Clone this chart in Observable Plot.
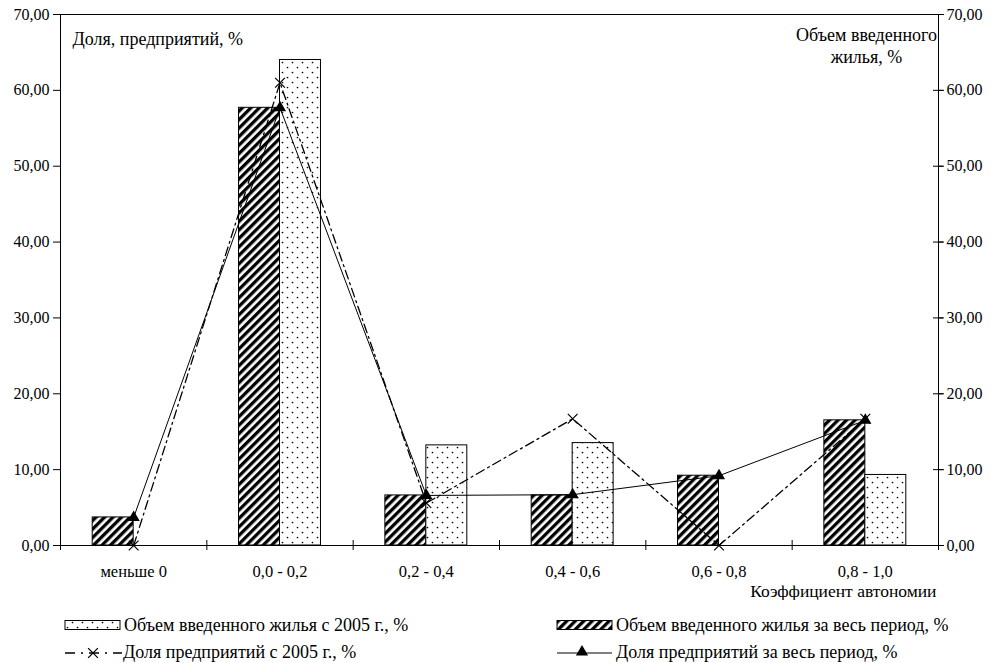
<!DOCTYPE html>
<html><head><meta charset="utf-8">
<script src="https://cdn.jsdelivr.net/npm/d3@7"></script>
<script src="https://cdn.jsdelivr.net/npm/@observablehq/plot@0.6"></script>
<style>
body{margin:0;background:#fff;font-family:"Liberation Serif",serif;}
#chart{width:991px;}
#legend{width:991px;height:63px;}
#legend svg, #chart svg{display:block;}
#chart svg text, #legend svg text{font-family:"Liberation Serif",serif !important;}
</style></head><body>
<svg width="0" height="0" style="position:absolute">
<defs>
<pattern id="hatch" patternUnits="userSpaceOnUse" width="6" height="6" patternTransform="rotate(45)">
<rect width="6" height="6" fill="white"/><rect width="3.3" height="6" fill="black"/>
</pattern>
<pattern id="dots" patternUnits="userSpaceOnUse" width="10" height="10">
<rect width="10" height="10" fill="white"/><circle cx="2.5" cy="2.5" r="0.85" fill="black"/><circle cx="7.5" cy="7.5" r="0.85" fill="black"/>
</pattern>
</defs></svg>
<div id="chart"></div>
<div id="legend"></div>
<script>
const categories = ["меньше 0", "0,0 - 0,2", "0,2 - 0,4", "0,4 - 0,6", "0,6 - 0,8", "0,8 - 1,0"];
const volumeAll = [3.7, 57.7, 6.6, 6.6, 9.2, 16.5];   // Объем введенного жилья за весь период, %
const volume2005 = [0, 64.0, 13.2, 13.5, 0, 9.3];     // Объем введенного жилья с 2005 г., %
const shareAll = [3.7, 57.7, 6.6, 6.7, 9.2, 16.5];    // Доля предприятий за весь период, %
const share2005 = [0, 61.0, 5.6, 16.7, 0, 16.7];      // Доля предприятий с 2005 г., %
const yTicks = [0, 10, 20, 30, 40, 50, 60, 70];
const yLabelLeft = "Доля, предприятий, %";
const yLabelRight = "Объем введенного\nжилья, %";
const xLabel = "Коэффициент автономии";
const legendLabels = [
  "Объем введенного жилья с 2005 г., %",
  "Объем введенного жилья за весь период, %",
  "Доля предприятий с 2005 г., %",
  "Доля предприятий за весь период, %"
];

const FF = '"Liberation Serif", serif';
const fmt = d => d.toFixed(2).replace(".", ",");
const idx = categories.map((_, i) => i);
const boundaries = d3.range(categories.length + 1).map(i => i - 0.5);
const BW = 0.28; // bar width as fraction of category step
const FS = 16;

const barsAll = idx.filter(i => volumeAll[i] > 0).map(i => ({i, v: volumeAll[i]}));
const bars2005 = idx.filter(i => volume2005[i] > 0).map(i => ({i, v: volume2005[i]}));
const lineAll = idx.map(i => ({i, v: shareAll[i]}));
const line2005 = idx.map(i => ({i, v: share2005[i]}));

const chart = Plot.plot({
  width: 991,
  height: 600,
  marginLeft: 60,
  marginRight: 53,
  marginTop: 14,
  marginBottom: 55,
  style: {fontFamily: FF, fontSize: FS + "px", color: "black", background: "white"},
  x: {domain: [-0.5, categories.length - 0.5], axis: null, label: null},
  y: {domain: [0, 70], axis: null, label: null},
  marks: [
    Plot.rect(barsAll, {x1: d => d.i - BW, x2: d => d.i, y1: 0, y2: "v", fill: "url(#hatch)", stroke: "black", strokeWidth: 1}),
    Plot.rect(bars2005, {x1: d => d.i, x2: d => d.i + BW, y1: 0, y2: "v", fill: "url(#dots)", stroke: "black", strokeWidth: 1}),
    Plot.line(line2005, {x: "i", y: "v", stroke: "black", strokeWidth: 1.3, strokeDasharray: "9,4,2,4"}),
    Plot.line(lineAll, {x: "i", y: "v", stroke: "black", strokeWidth: 1}),
    Plot.dot(line2005, {x: "i", y: "v", symbol: "times", stroke: "black", strokeWidth: 1.2, r: 4.5}),
    Plot.dot(lineAll, {x: "i", y: "v", symbol: "triangle", fill: "black", r: 4.5}),
    Plot.frame({stroke: "black", strokeWidth: 1}),
    Plot.axisY(yTicks, {anchor: "left", label: null, tickSize: 7, tickPadding: 4, tickFormat: fmt, fontSize: FS, fontFamily: FF}),
    Plot.axisY(yTicks, {anchor: "right", label: null, tickSize: 5, tickPadding: 3, tickFormat: fmt, fontSize: FS, fontFamily: FF}),
    Plot.ruleY(yTicks, {y: d => d, x1: categories.length - 0.5, x2: categories.length - 0.5, insetLeft: -5, insetRight: -5, stroke: "black"}),
    Plot.ruleX(boundaries, {x: d => d, y1: 0, y2: 0, insetTop: -5, insetBottom: -5, stroke: "black"}),
    Plot.axisX(idx, {anchor: "bottom", label: null, tickSize: 0, tickPadding: 20, tickFormat: i => categories[i], fontSize: 16.5, fontFamily: FF}),
    Plot.text([yLabelLeft], {frameAnchor: "top-left", dx: 12, dy: 25, textAnchor: "start", lineAnchor: "middle", fontSize: 18, fontFamily: FF}),
    Plot.text([yLabelRight], {frameAnchor: "top-right", dx: -72, dy: 11, textAnchor: "middle", lineAnchor: "top", lineHeight: 1.22, fontSize: 18, fontFamily: FF}),
    Plot.text([xLabel], {frameAnchor: "bottom-right", dx: -2, dy: 46, textAnchor: "end", lineAnchor: "middle", fontSize: 17.5, fontFamily: FF})
  ]
});
document.getElementById("chart").append(chart);

// Legend below the chart
const LFS = 18;
const lg = d3.select("#legend").append("svg").attr("width", 991).attr("height", 63)
  .style("font-family", FF).style("font-size", LFS + "px");
const rowY = [25, 52];
const colX = [65, 557];
const swW = 55;
// row 1: bar swatches
[["url(#dots)", 0, 0], ["url(#hatch)", 1, 1]].forEach(([fill, col, li]) => {
  lg.append("rect").attr("x", colX[col]).attr("y", rowY[0] - 4.5).attr("width", swW).attr("height", 9)
    .attr("fill", fill).attr("stroke", "black");
  lg.append("text").attr("x", colX[col] + swW + 4).attr("y", rowY[0]).attr("dy", "0.35em").text(legendLabels[li]);
});
// row 2: line swatches
lg.append("line").attr("x1", colX[0]).attr("x2", colX[0] + swW + 2).attr("y1", rowY[1] + 1).attr("y2", rowY[1] + 1)
  .attr("stroke", "black").attr("stroke-width", 1.6).attr("stroke-dasharray", "10,6,2,6");
lg.append("path").attr("d", d3.symbol(d3.symbolTimes, 64)()).attr("transform", `translate(${colX[0] + 28},${rowY[1] + 1})`)
  .attr("stroke", "black").attr("stroke-width", 1.3).attr("fill", "none");
lg.append("text").attr("x", colX[0] + swW + 3).attr("y", rowY[1]).attr("dy", "0.35em").text(legendLabels[2]);
lg.append("line").attr("x1", colX[1]).attr("x2", colX[1] + swW).attr("y1", rowY[1] + 1).attr("y2", rowY[1] + 1)
  .attr("stroke", "black").attr("stroke-width", 1);
lg.append("path").attr("d", d3.symbol(d3.symbolTriangle, 64)()).attr("transform", `translate(${colX[1] + 25},${rowY[1]})`)
  .attr("fill", "black");
lg.append("text").attr("x", colX[1] + swW + 4).attr("y", rowY[1]).attr("dy", "0.35em").text(legendLabels[3]);
</script>
</body></html>
